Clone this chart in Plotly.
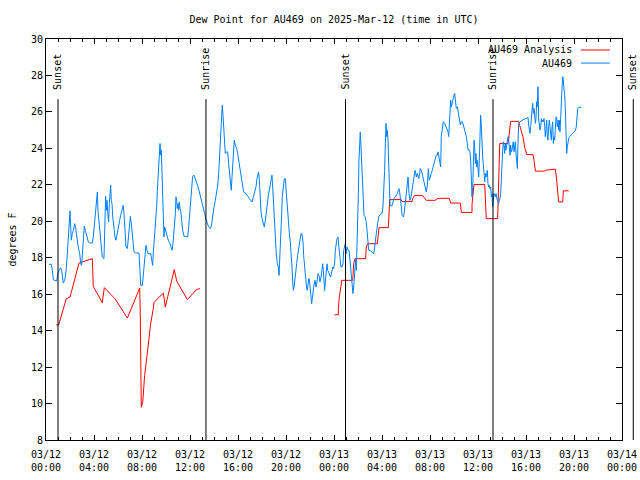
import pandas as pd
import plotly.graph_objects as go

BASE = pd.Timestamp("2025-03-12 00:00")
END = pd.Timestamp("2025-03-14 00:00")

TITLE = "Dew Point for AU469 on 2025-Mar-12 (time in UTC)"
Y_LABEL = "degrees F"
SERIES_NAMES = ["AU469 Analysis", "AU469"]
SERIES_COLORS = ["#ff0000", "#0080ff"]

# observed dew point: (hours since 03/12 00:00 UTC, degF)
au469_obs = [
    (0.25, 17.64), (0.44, 17.64), (0.53, 17.31), (0.61, 16.79), (0.89, 16.72), (1.0, 17.16), (1.11, 17.31),
    (1.22, 17.45), (1.31, 17.31), (1.36, 16.94), (1.44, 16.61), (1.56, 16.76), (1.67, 17.27), (1.78, 18.22),
    (1.86, 19.14), (1.92, 20.05), (2.0, 20.57), (2.06, 19.69), (2.11, 18.96), (2.19, 19.32), (2.28, 19.5),
    (2.39, 19.87), (2.47, 19.69), (2.53, 19.32), (2.61, 18.86), (2.69, 18.59), (2.81, 18.22), (2.89, 17.67),
    (2.97, 17.58), (3.03, 18.13), (3.11, 18.96), (3.19, 19.73), (3.28, 19.5), (3.36, 19.23), (3.44, 19.05),
    (3.53, 18.86), (3.67, 18.81), (3.86, 18.81), (3.94, 19.14), (4.03, 19.87), (4.11, 20.51), (4.19, 21.15),
    (4.28, 21.61), (4.33, 20.6), (4.42, 19.96), (4.5, 19.69), (4.58, 19.14), (4.64, 18.59), (4.69, 18.04),
    (4.83, 17.95), (4.89, 19.5), (4.97, 21.37), (5.03, 20.6), (5.08, 21.15), (5.17, 20.24), (5.22, 19.96),
    (5.28, 20.97), (5.33, 21.7), (5.39, 21.98), (5.44, 21.15), (5.5, 20.97), (5.56, 20.24), (5.61, 19.87),
    (5.67, 19.69), (5.75, 19.14), (5.83, 18.96), (5.89, 19.14), (5.97, 19.41), (6.06, 19.69), (6.14, 20.05),
    (6.22, 20.33), (6.31, 20.64), (6.39, 20.79), (6.44, 20.88), (6.5, 20.42), (6.56, 19.69), (6.61, 18.96),
    (6.67, 18.59), (6.78, 18.5), (6.86, 19.14), (6.94, 19.69), (7.03, 20.27), (7.11, 19.87), (7.19, 19.32),
    (7.25, 18.77), (7.33, 18.32), (7.47, 18.26), (7.75, 18.26), (7.83, 17.31), (7.89, 16.48), (8.03, 16.48),
    (8.08, 16.94), (8.17, 17.67), (8.25, 18.41), (8.33, 18.68), (8.42, 18.41), (8.5, 18.22), (8.72, 18.22),
    (8.81, 17.77), (8.89, 17.58), (8.94, 18.22), (9.0, 18.68), (9.08, 19.32), (9.17, 19.96), (9.22, 20.79),
    (9.28, 21.7), (9.36, 22.62), (9.44, 23.53), (9.5, 24.27), (9.56, 23.63), (9.61, 23.9), (9.67, 22.62),
    (9.72, 21.7), (9.78, 19.87), (9.83, 19.14), (9.89, 19.69), (9.97, 19.5), (10.06, 19.23), (10.19, 18.96),
    (10.33, 18.77), (10.42, 18.59), (10.5, 18.41), (10.58, 18.77), (10.67, 19.5), (10.78, 20.42), (10.83, 21.34),
    (10.89, 21.15), (10.94, 20.7), (11.0, 20.97), (11.06, 20.6), (11.11, 21.06), (11.17, 20.7), (11.22, 20.6),
    (11.31, 20.05), (11.39, 19.5), (11.5, 19.18), (11.72, 19.14), (11.81, 19.14), (11.89, 19.69), (11.97, 20.42),
    (12.06, 21.15), (12.14, 21.79), (12.22, 22.47), (12.33, 22.53), (12.44, 22.34), (12.56, 22.16), (12.67, 21.89),
    (12.78, 21.61), (12.89, 21.34), (13.0, 20.97), (13.11, 20.7), (13.22, 20.42), (13.31, 20.15), (13.39, 19.96),
    (13.5, 19.78), (13.61, 19.65), (13.72, 19.6), (13.81, 19.87), (13.89, 20.33), (14.0, 20.79), (14.11, 21.15),
    (14.22, 21.52), (14.31, 21.98), (14.39, 22.62), (14.47, 23.53), (14.53, 24.63), (14.58, 25.37), (14.64, 25.92),
    (14.69, 26.37), (14.75, 25.82), (14.81, 25.0), (14.89, 24.18), (14.94, 23.72), (15.06, 23.81), (15.14, 23.81),
    (15.22, 23.17), (15.31, 22.62), (15.39, 22.07), (15.44, 21.7), (15.5, 22.44), (15.56, 23.17), (15.64, 23.99),
    (15.69, 24.45), (15.78, 24.18), (15.89, 23.99), (15.97, 23.72), (16.06, 23.35), (16.14, 22.99), (16.22, 22.62),
    (16.31, 22.25), (16.39, 21.89), (16.47, 21.61), (16.61, 21.56), (16.72, 21.48), (16.83, 21.37), (16.94, 21.25),
    (17.06, 21.15), (17.17, 21.06), (17.28, 21.34), (17.39, 21.61), (17.5, 21.89), (17.58, 22.34), (17.67, 22.62),
    (17.72, 22.71), (17.78, 22.25), (17.83, 21.52), (17.92, 20.51), (18.0, 20.15), (18.08, 19.96), (18.19, 19.69),
    (18.28, 20.05), (18.36, 20.6), (18.44, 21.15), (18.53, 21.43), (18.61, 21.7), (18.69, 21.98), (18.78, 22.44),
    (18.83, 22.53), (18.89, 21.89), (18.97, 20.88), (19.06, 19.87), (19.11, 18.96), (19.19, 18.22), (19.28, 17.67),
    (19.36, 17.49), (19.42, 17.03), (19.47, 17.67), (19.53, 18.59), (19.58, 19.5), (19.64, 20.42), (19.69, 21.34),
    (19.78, 21.89), (19.86, 22.34), (19.94, 22.34), (20.0, 21.7), (20.08, 21.15), (20.17, 20.42), (20.22, 19.78),
    (20.28, 19.32), (20.36, 18.86), (20.44, 18.22), (20.5, 17.49), (20.56, 16.67), (20.61, 16.21), (20.67, 16.39),
    (20.72, 16.76), (20.81, 17.22), (20.89, 17.67), (20.97, 18.13), (21.03, 18.41), (21.11, 18.96), (21.19, 19.23),
    (21.25, 19.32), (21.33, 19.32), (21.42, 18.86), (21.47, 18.13), (21.56, 17.31), (21.64, 16.67), (21.72, 16.3),
    (21.78, 16.21), (21.83, 16.58), (21.89, 16.85), (21.94, 16.85), (22.0, 16.48), (22.08, 16.03), (22.14, 15.48),
    (22.19, 15.76), (22.25, 16.12), (22.33, 16.48), (22.42, 16.76), (22.5, 16.39), (22.58, 16.67), (22.67, 17.13),
    (22.75, 17.03), (22.83, 16.67), (22.92, 16.94), (23.0, 17.4), (23.06, 17.67), (23.11, 17.31), (23.17, 16.67),
    (23.22, 16.21), (23.31, 16.94), (23.36, 17.58), (23.42, 17.67), (23.47, 17.31), (23.56, 17.22), (23.64, 17.03),
    (23.72, 16.94), (23.81, 17.22), (23.89, 17.49), (23.97, 17.4), (24.06, 17.77), (24.11, 18.41), (24.17, 18.77),
    (24.25, 19.05), (24.33, 19.14), (24.39, 18.77), (24.44, 18.22), (24.5, 17.86), (24.58, 17.49), (24.67, 17.49),
    (24.75, 17.67), (24.81, 18.41), (24.89, 18.59), (24.94, 18.77), (25.0, 18.22), (25.08, 18.59), (25.17, 18.41),
    (25.25, 18.41), (25.31, 18.04), (25.36, 17.67), (25.42, 17.31), (25.47, 16.76), (25.53, 16.21), (25.58, 16.03),
    (25.64, 16.39), (25.69, 16.94), (25.75, 17.49), (25.81, 17.95), (25.86, 17.31), (25.92, 18.41), (25.97, 20.24),
    (26.03, 21.52), (26.08, 23.35), (26.14, 24.45), (26.19, 24.9), (26.25, 24.08), (26.31, 23.26), (26.36, 22.16),
    (26.42, 21.15), (26.5, 20.33), (26.58, 20.27), (26.64, 20.15), (26.67, 20.05), (26.75, 19.51), (26.83, 18.59),
    (26.89, 18.41), (27.03, 18.38), (27.17, 18.32), (27.31, 18.22), (27.39, 18.59), (27.47, 19.14), (27.56, 19.51),
    (27.64, 19.87), (27.72, 20.24), (27.86, 20.38), (28.0, 20.42), (28.08, 20.78), (28.17, 21.88), (28.22, 22.8),
    (28.28, 24.27), (28.33, 25.37), (28.39, 24.64), (28.44, 25.0), (28.5, 24.45), (28.56, 22.98), (28.61, 21.34),
    (28.67, 20.85), (28.83, 20.85), (28.92, 21.15), (29.0, 21.25), (29.11, 21.34), (29.19, 21.43), (29.28, 21.52),
    (29.36, 21.7), (29.42, 21.79), (29.47, 21.61), (29.53, 21.34), (29.61, 20.79), (29.67, 20.33), (29.78, 20.24),
    (29.86, 20.51), (29.94, 20.97), (30.03, 21.34), (30.11, 21.88), (30.17, 22.43), (30.25, 21.52), (30.33, 21.15),
    (30.42, 21.34), (30.5, 21.7), (30.58, 22.25), (30.67, 22.62), (30.75, 22.8), (30.81, 22.62), (30.86, 22.43),
    (30.94, 22.62), (31.06, 22.34), (31.14, 22.62), (31.19, 22.89), (31.28, 22.8), (31.36, 22.53), (31.44, 22.25),
    (31.53, 21.98), (31.61, 21.79), (31.69, 21.61), (31.78, 21.98), (31.86, 22.89), (31.94, 22.25), (32.03, 22.53),
    (32.11, 22.62), (32.19, 22.8), (32.28, 23.08), (32.36, 23.17), (32.44, 23.44), (32.53, 23.63), (32.61, 23.63),
    (32.67, 23.81), (32.75, 23.44), (32.83, 23.26), (32.89, 22.98), (32.94, 24.64), (33.03, 25.28), (33.11, 25.46),
    (33.22, 25.37), (33.33, 25.18), (33.44, 25.09), (33.5, 24.91), (33.56, 24.64), (33.61, 25.37), (33.67, 26.28),
    (33.72, 26.65), (33.78, 26.28), (33.83, 26.47), (33.89, 26.65), (33.94, 26.79), (34.0, 26.92), (34.06, 27.01),
    (34.11, 26.47), (34.19, 26.19), (34.28, 26.28), (34.36, 25.92), (34.44, 25.46), (34.53, 25.28), (34.61, 25.46),
    (34.69, 25.46), (34.78, 25.28), (34.86, 25.09), (34.94, 25.0), (35.03, 24.64), (35.11, 24.27), (35.17, 23.9),
    (35.25, 23.94), (35.33, 23.81), (35.39, 23.35), (35.44, 22.25), (35.5, 21.34), (35.56, 21.88), (35.61, 23.9),
    (35.67, 24.45), (35.72, 24.08), (35.78, 23.17), (35.83, 23.72), (35.89, 22.98), (35.94, 23.35), (36.0, 22.62),
    (36.06, 22.43), (36.11, 23.35), (36.17, 24.82), (36.22, 25.82), (36.28, 25.18), (36.33, 23.9), (36.39, 23.53),
    (36.44, 23.17), (36.5, 22.34), (36.56, 22.16), (36.61, 22.62), (36.67, 22.43), (36.72, 22.62), (36.78, 22.8),
    (36.83, 22.07), (36.89, 21.88), (36.94, 21.98), (37.0, 21.79), (37.06, 21.88), (37.11, 21.34), (37.17, 21.52),
    (37.22, 20.79), (37.28, 21.15), (37.33, 21.52), (37.39, 21.43), (37.44, 21.34), (37.5, 21.52), (37.56, 21.25),
    (37.61, 21.15), (37.67, 21.06), (37.72, 20.97), (37.78, 21.15), (37.83, 21.25), (37.89, 21.52), (37.94, 22.62),
    (38.0, 23.35), (38.06, 23.9), (38.11, 24.36), (38.17, 24.18), (38.22, 23.72), (38.28, 24.27), (38.33, 23.9),
    (38.39, 24.27), (38.44, 24.45), (38.5, 24.64), (38.56, 24.45), (38.61, 23.99), (38.67, 23.63), (38.72, 24.18),
    (38.78, 23.81), (38.83, 23.9), (38.89, 24.08), (38.94, 24.36), (39.0, 23.81), (39.06, 24.27), (39.11, 24.36),
    (39.17, 23.72), (39.22, 23.26), (39.28, 22.89), (39.33, 24.27), (39.39, 25.37), (39.5, 25.46), (39.61, 25.51),
    (39.72, 25.55), (39.83, 25.59), (39.94, 25.64), (40.06, 25.64), (40.17, 25.7), (40.22, 25.28), (40.28, 24.86),
    (40.33, 24.82), (40.39, 25.18), (40.44, 25.92), (40.5, 26.1), (40.56, 26.47), (40.61, 25.92), (40.67, 26.19),
    (40.72, 25.73), (40.78, 25.37), (40.83, 25.64), (40.89, 26.56), (40.94, 26.28), (41.0, 27.38), (41.06, 25.55),
    (41.11, 25.0), (41.17, 25.0), (41.22, 25.18), (41.28, 25.64), (41.33, 25.46), (41.39, 25.55), (41.44, 25.46),
    (41.5, 25.64), (41.56, 25.18), (41.61, 24.64), (41.67, 25.09), (41.72, 25.55), (41.78, 24.64), (41.83, 24.45),
    (41.89, 25.18), (41.94, 25.55), (42.0, 25.18), (42.06, 24.91), (42.11, 24.45), (42.17, 25.18), (42.22, 25.46),
    (42.28, 24.27), (42.33, 24.64), (42.39, 24.45), (42.44, 25.18), (42.5, 25.73), (42.56, 25.64), (42.61, 25.18),
    (42.67, 25.55), (42.72, 25.0), (42.78, 25.55), (42.83, 24.91), (42.89, 25.64), (42.94, 26.83), (43.0, 27.29),
    (43.06, 27.93), (43.11, 27.75), (43.17, 27.2), (43.22, 27.01), (43.28, 26.1), (43.33, 24.82), (43.39, 23.72),
    (43.44, 24.08), (43.5, 24.45), (43.58, 24.6), (43.67, 24.67), (43.78, 24.73), (43.89, 24.82), (44.0, 24.91),
    (44.11, 24.97), (44.19, 25.18), (44.25, 25.73), (44.31, 26.19), (44.39, 26.25), (44.61, 26.25),
]

# analysis dew point: (hours since 03/12 00:00 UTC, degF); None separates the two runs
au469_analysis = [
    (0.86, 14.32), (1.06, 14.32), (1.69, 15.75), (2.0, 15.84), (2.75, 17.71), (3.86, 17.95), (3.94, 16.43),
    (4.69, 15.53), (4.86, 16.36), (5.75, 15.75), (6.78, 14.69), (7.81, 16.34), (7.86, 14.74), (7.94, 9.8),
    (8.06, 10.07), (8.22, 11.54), (8.5, 13.09), (8.72, 14.38), (8.94, 15.2), (9.0, 15.55), (9.78, 16.06),
    (9.94, 15.29), (10.69, 17.35), (10.89, 16.72), (11.78, 15.71), (12.56, 16.26), (12.83, 16.3),
    (None, None),
    (24.03, 14.87), (24.36, 14.87), (24.36, 15.18), (24.44, 15.84), (24.58, 16.43), (24.64, 16.76),
    (25.56, 16.76), (25.64, 17.68), (25.75, 17.95), (26.64, 17.95), (26.69, 18.59), (26.81, 18.77),
    (27.61, 18.77), (27.69, 19.45), (27.75, 19.65), (28.53, 19.65), (28.56, 20.42), (28.64, 21.19),
    (29.61, 21.19), (29.67, 21.08), (30.5, 21.08), (30.56, 21.25), (30.72, 21.41), (31.39, 21.41),
    (31.56, 21.25), (31.67, 21.15), (32.44, 21.15), (32.58, 21.23), (32.78, 21.26), (33.61, 21.26),
    (33.72, 21.0), (34.53, 21.0), (34.61, 20.49), (35.5, 20.48), (35.5, 20.92), (35.67, 22.02),
    (36.56, 22.02), (36.61, 21.25), (36.69, 20.15), (37.64, 20.15), (37.67, 20.97), (37.72, 23.17),
    (37.81, 24.27), (38.5, 24.27), (38.56, 24.52), (38.72, 25.48), (39.39, 25.48), (39.47, 25.27),
    (39.75, 24.63), (39.89, 24.05), (40.06, 23.66), (40.58, 23.66), (40.67, 23.35), (40.78, 22.75),
    (41.56, 22.75), (41.61, 22.8), (42.44, 22.86), (42.53, 22.43), (42.67, 21.52), (42.72, 21.06),
    (43.06, 21.06), (43.11, 21.67), (43.56, 21.67),
]

# sunrise / sunset markers (hours since 03/12 00:00 UTC)
sun_events = [("Sunset", 1.0), ("Sunrise", 13.33), ("Sunset", 24.96), ("Sunrise", 37.25), ("Sunset", 48.94)]

Y_RANGE = [8, 30]
Y_DTICK = 2


def to_time(h):
    return None if h is None else BASE + pd.to_timedelta(h, unit="h")


def to_paper_x(h):
    return (to_time(h) - BASE) / (END - BASE)


FONT = "DejaVu Sans Mono, Liberation Mono, monospace"

fig = go.Figure()
for name, color, data in [
    (SERIES_NAMES[0], SERIES_COLORS[0], au469_analysis),
    (SERIES_NAMES[1], SERIES_COLORS[1], au469_obs),
]:
    fig.add_trace(go.Scatter(
        x=[to_time(h) for h, _ in data],
        y=[v for _, v in data],
        mode="lines",
        name=name,
        line=dict(color=color, width=1),
        connectgaps=False,
        showlegend=False,
    ))

shapes = []
annotations = []
for label, h in sun_events:
    px = to_paper_x(h)
    shapes.append(dict(type="line", xref="paper", yref="paper", x0=px, x1=px, y0=0, y1=0.85,
                       line=dict(color="black", width=1)))
    annotations.append(dict(text=label, xref="paper", yref="paper", x=px, y=0.868,
                            xanchor="center", yanchor="bottom", textangle=-90, showarrow=False,
                            font=dict(family=FONT, size=10, color="black")))

# gnuplot-style legend (text, then line sample on its right)
legend_y = [0.9726, 0.940]
for name, color, ly in zip(SERIES_NAMES, SERIES_COLORS, legend_y):
    annotations.append(dict(text=name, xref="paper", yref="paper", x=0.917, y=ly,
                            xanchor="right", yanchor="middle", showarrow=False,
                            font=dict(family=FONT, size=10, color="black")))
    shapes.append(dict(type="line", xref="paper", yref="paper", x0=0.9288, x1=0.979, y0=ly, y1=ly,
                       line=dict(color=color, width=1)))

fig.update_layout(
    width=640, height=480,
    margin=dict(l=46, r=18, t=39, b=40, autoexpand=False),
    paper_bgcolor="white", plot_bgcolor="white",
    font=dict(family=FONT, size=10, color="black"),
    title=dict(text=TITLE, x=0.5, xref="paper", xanchor="center", y=1 - 19 / 480, yref="container",
               yanchor="middle", font=dict(family=FONT, size=10, color="black")),
    shapes=shapes,
    annotations=annotations,
    showlegend=False,
)
fig.update_xaxes(
    type="date", range=[BASE, END], tick0=BASE, dtick=4 * 3600 * 1000,
    tickformat="%m/%d<br>%H:%M", ticks="inside", ticklen=5, tickcolor="black",
    showline=True, linecolor="black", linewidth=1, mirror="allticks", showgrid=False, zeroline=False,
    minor=dict(dtick=3600 * 1000, ticks="inside", ticklen=3, tickcolor="black", showgrid=False),
    tickfont=dict(family=FONT, size=10, color="black"),
    ticklabelstandoff=5,
)
fig.update_yaxes(
    range=Y_RANGE, tick0=Y_RANGE[0], dtick=Y_DTICK, ticks="inside", ticklen=6, tickcolor="black",
    showline=True, linecolor="black", linewidth=1, mirror="allticks", showgrid=False, zeroline=False,
    title=dict(text=Y_LABEL, font=dict(family=FONT, size=10, color="black"), standoff=12),
    tickfont=dict(family=FONT, size=10, color="black"),
)

fig.write_html(
    "out.html",
    config={"displayModeBar": False},
    post_script="document.body.style.margin='0';document.body.style.padding='0';",
)
